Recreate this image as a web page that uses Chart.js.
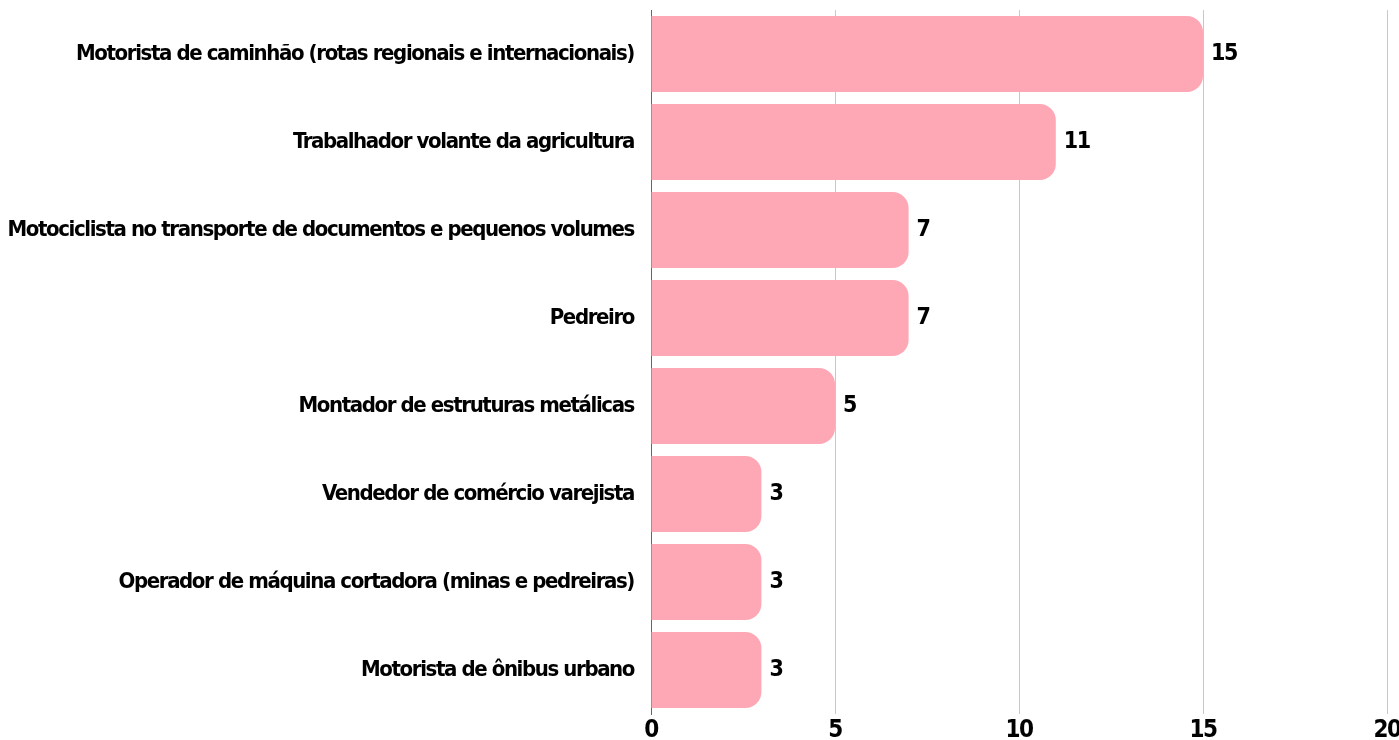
<!DOCTYPE html>
<html>
<head>
<meta charset="utf-8">
<script src="https://cdn.jsdelivr.net/npm/chart.js@4.4.0/dist/chart.umd.min.js"></script>
<style>
  html, body { margin: 0; padding: 0; background: #fff; }
  #wrap { width: 1399px; height: 740px; }
</style>
</head>
<body>
<div id="wrap"><canvas id="occupationChart"></canvas></div>
<script>
// Data
const occupations = [
    'Motorista de caminhão (rotas regionais e internacionais)',
    'Trabalhador volante da agricultura',
    'Motociclista no transporte de documentos e pequenos volumes',
    'Pedreiro',
    'Montador de estruturas metálicas',
    'Vendedor de comércio varejista',
    'Operador de máquina cortadora (minas e pedreiras)',
    'Motorista de ônibus urbano'
];
const counts = [15, 11, 7, 7, 5, 3, 3, 3];
const xTicks = [0, 5, 10, 15, 20];

const FONT = "'Liberation Sans Narrow', 'DejaVu Sans Condensed', sans-serif";
const SPACING = '-1.4px';

// Tighter letter spacing to get closer to the condensed face
const tightText = {
    id: 'tightText',
    beforeInit(chart) { chart.ctx.letterSpacing = SPACING; },
    beforeDraw(chart) { chart.ctx.letterSpacing = SPACING; }
};

// Value labels at the end of each bar
const valueLabels = {
    id: 'valueLabels',
    afterDatasetsDraw(chart) {
        const ctx = chart.ctx;
        const meta = chart.getDatasetMeta(0);
        ctx.save();
        ctx.letterSpacing = SPACING;
        ctx.font = 'bold 23px ' + FONT;
        ctx.fillStyle = '#000';
        ctx.textAlign = 'left';
        ctx.textBaseline = 'middle';
        meta.data.forEach((bar, i) => {
            ctx.fillText(counts[i], bar.x + 8, bar.y);
        });
        ctx.restore();
    }
};

const ctx = document.getElementById('occupationChart').getContext('2d');
new Chart(ctx, {
    type: 'bar',
    data: {
        labels: occupations,
        datasets: [{
            data: counts,
            backgroundColor: '#ffa8b5',
            borderRadius: 16,
            borderSkipped: 'start',
            categoryPercentage: 1,
            barPercentage: 0.864
        }]
    },
    plugins: [tightText, valueLabels],
    options: {
        indexAxis: 'y',
        responsive: true,
        maintainAspectRatio: false,
        animation: false,
        layout: { padding: { top: 10, right: 12, left: 0, bottom: 0 } },
        plugins: {
            legend: { display: false },
            tooltip: { enabled: false }
        },
        scales: {
            x: {
                min: 0,
                max: 20,
                afterBuildTicks: scale => {
                    scale.ticks = xTicks.map(v => ({ value: v }));
                },
                afterFit: scale => {
                    scale.height = 26;
                    scale.paddingLeft = 0;
                    scale.paddingRight = 0;
                },
                grid: {
                    color: c => (c.tick && c.tick.value === 0) ? '#666' : '#c8c8c8',
                    drawTicks: false
                },
                border: { display: false },
                ticks: {
                    color: '#000',
                    padding: 2,
                    font: { family: FONT, size: 24, weight: 'bold' }
                }
            },
            y: {
                grid: { display: false, drawTicks: false },
                border: { display: true, color: '#666' },
                afterFit: scale => {
                    scale.width = 651;
                    scale.paddingTop = 0;
                    scale.paddingBottom = 0;
                },
                ticks: {
                    color: '#000',
                    padding: 17,
                    font: { family: FONT, size: 22, weight: 'bold' }
                }
            }
        }
    }
});
</script>
</body>
</html>
